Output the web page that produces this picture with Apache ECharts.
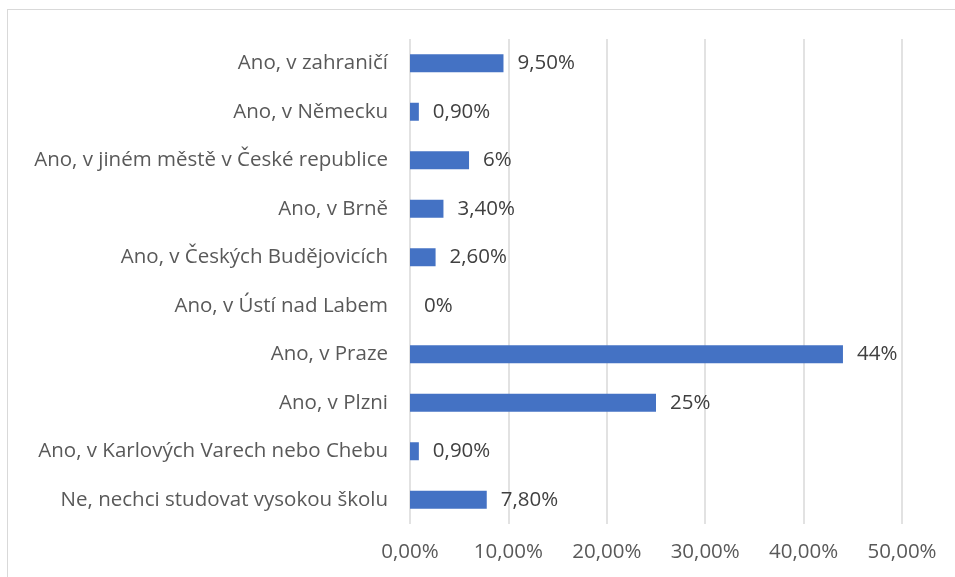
<!DOCTYPE html>
<html>
<head>
<meta charset="utf-8">
<script src="https://cdn.jsdelivr.net/npm/echarts@6/dist/echarts.min.js"></script>
<style>
  html, body { margin: 0; padding: 0; background: #fff; }
  #frame { position: absolute; left: 7px; top: 9px; width: 960px; height: 580px; border: 1.5px solid #d9d9d9; }
  #chart { position: absolute; left: 0; top: 0; width: 955px; height: 577px; }
</style>
</head>
<body>
<div id="frame"></div>
<div id="chart"></div>
<script>
// kategorie odshora dolů
const categories = [
  'Ano, v zahraničí',
  'Ano, v Německu',
  'Ano, v jiném městě v České republice',
  'Ano, v Brně',
  'Ano, v Českých Budějovicích',
  'Ano, v Ústí nad Labem',
  'Ano, v Praze',
  'Ano, v Plzni',
  'Ano, v Karlových Varech nebo Chebu',
  'Ne, nechci studovat vysokou školu'
]
const values = [9.5, 0.9, 6, 3.4, 2.6, 0, 44, 25, 0.9, 7.8]
// popisky dat tak jak jsou v originále
const valueLabels = ['9,50%', '0,90%', '6%', '3,40%', '2,60%', '0%', '44%', '25%', '0,90%', '7,80%']
const xTicks = ['0,00%', '10,00%', '20,00%', '30,00%', '40,00%', '50,00%']

const font = '"Open Sans", "Noto Sans", sans-serif'
const fs = 20.5
const chart = echarts.init(document.getElementById('chart'))

const option = {
  animation: false,
  backgroundColor: 'transparent',
  grid: { left: 410, right: 53, top: 39, bottom: 53 },
  xAxis: {
    type: 'value',
    min: 0,
    max: 50,
    interval: 10,
    axisLine: { show: false },
    axisTick: { show: false },
    splitLine: { lineStyle: { color: '#d9d9d9', width: 1.5 } },
    axisLabel: {
      color: '#595959',
      fontFamily: font,
      fontSize: fs,
      margin: 18,
      formatter: (v) => xTicks[Math.round(v / 10)]
    }
  },
  yAxis: {
    type: 'category',
    inverse: true,
    data: categories,
    axisLine: { show: false },
    axisTick: { show: false },
    axisLabel: {
      color: '#595959',
      fontFamily: font,
      fontSize: fs,
      margin: 22
    }
  },
  series: [{
    type: 'bar',
    data: values,
    barWidth: 18,
    itemStyle: { color: '#4472C4' },
    label: {
      show: true,
      position: 'right',
      distance: 14,
      color: '#404040',
      fontFamily: font,
      fontSize: fs,
      formatter: (p) => valueLabels[p.dataIndex]
    }
  }]
}

chart.setOption(option)
</script>
</body>
</html>
